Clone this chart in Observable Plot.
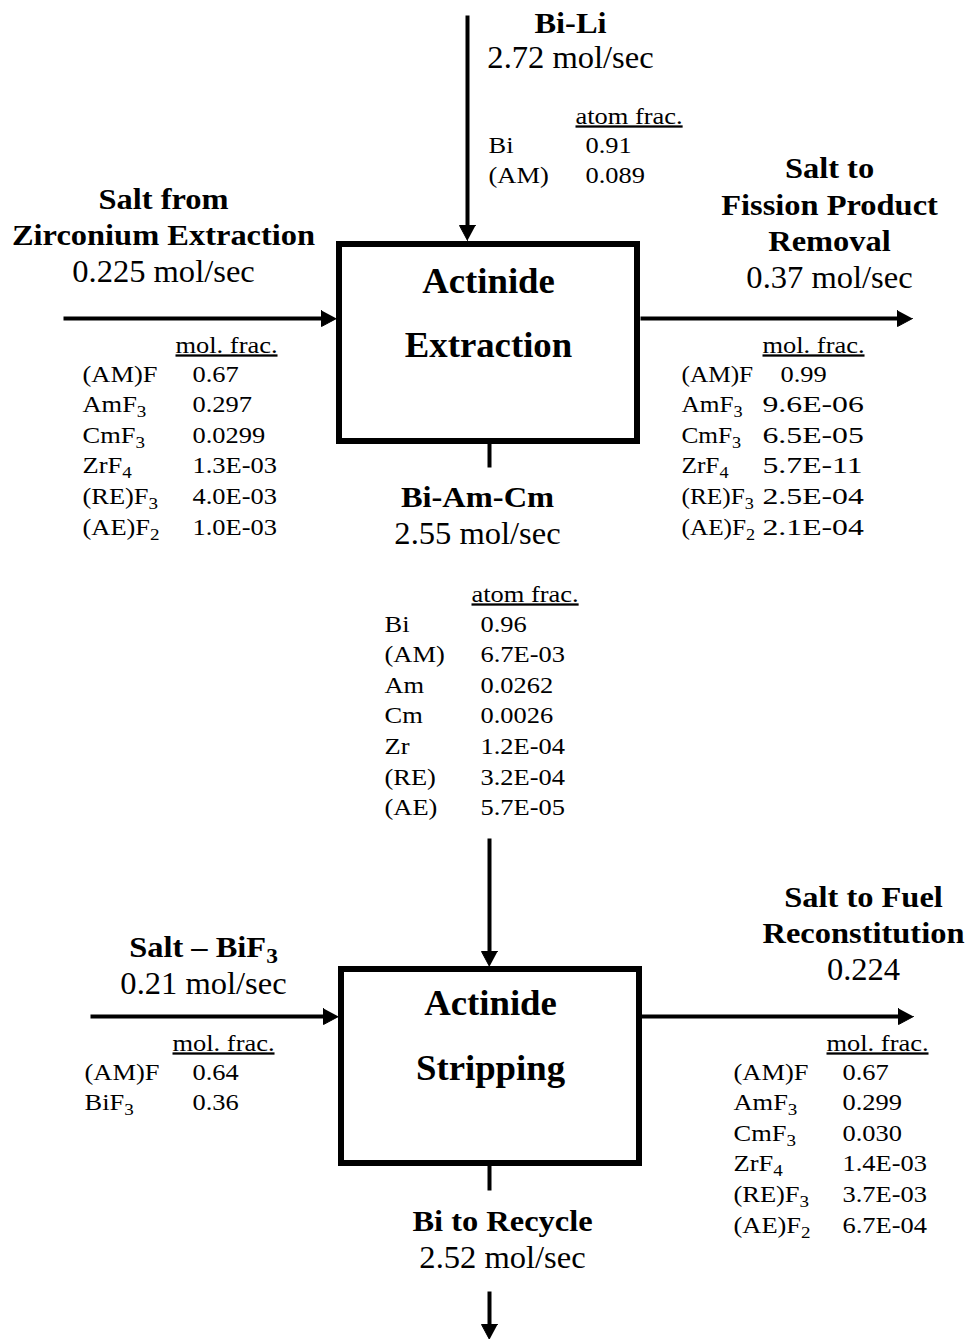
<!DOCTYPE html>
<html><head><meta charset="utf-8">
<script src="https://cdn.jsdelivr.net/npm/d3@7"></script>
<script src="https://cdn.jsdelivr.net/npm/@observablehq/plot@0.6"></script>
<style>
html,body{margin:0;padding:0;background:#fff;}
#chart svg{display:block;}
</style>
</head><body><div id="chart"></div>
<script>
// ---------------- data ----------------
const unitLines = [["Actinide", "Extraction"], ["Actinide", "Stripping"]];

const streamTitleLines = [
  ["Bi-Li"],
  ["Salt from", "Zirconium Extraction"],
  ["Salt to", "Fission Product", "Removal"],
  ["Bi-Am-Cm"],
  ["Salt – BiF₃"],
  ["Salt to Fuel", "Reconstitution"],
  ["Bi to Recycle"]
];
const streamFlows = ["2.72 mol/sec", "0.225 mol/sec", "0.37 mol/sec", "2.55 mol/sec", "0.21 mol/sec", "0.224", "2.52 mol/sec"];

const compHeaders = ["atom frac.", "mol. frac.", "mol. frac.", "atom frac.", "mol. frac.", "mol. frac."];

const biLiSpecies = ["Bi", "(AM)"];
const biLiFrac = ["0.91", "0.089"];

const saltFeedSpecies = ["(AM)F", "AmF₃", "CmF₃", "ZrF₄", "(RE)F₃", "(AE)F₂"];
const saltFeedFrac = ["0.67", "0.297", "0.0299", "1.3E-03", "4.0E-03", "1.0E-03"];

const saltToFPSpecies = ["(AM)F", "AmF₃", "CmF₃", "ZrF₄", "(RE)F₃", "(AE)F₂"];
const saltToFPFrac = ["0.99", "9.6E-06", "6.5E-05", "5.7E-11", "2.5E-04", "2.1E-04"];

const biAmCmSpecies = ["Bi", "(AM)", "Am", "Cm", "Zr", "(RE)", "(AE)"];
const biAmCmFrac = ["0.96", "6.7E-03", "0.0262", "0.0026", "1.2E-04", "3.2E-04", "5.7E-05"];

const stripSaltSpecies = ["(AM)F", "BiF₃"];
const stripSaltFrac = ["0.64", "0.36"];

const saltToFuelSpecies = ["(AM)F", "AmF₃", "CmF₃", "ZrF₄", "(RE)F₃", "(AE)F₂"];
const saltToFuelFrac = ["0.67", "0.299", "0.030", "1.4E-03", "3.7E-03", "6.7E-04"];

const tableSpecies = [biLiSpecies, saltFeedSpecies, saltToFPSpecies, biAmCmSpecies, stripSaltSpecies, saltToFuelSpecies];
const tableFracs = [biLiFrac, saltFeedFrac, saltToFPFrac, biAmCmFrac, stripSaltFrac, saltToFuelFrac];

// ---------------- layout (diagram geometry) ----------------
const W = 966, H = 1339;
const boxLayout = [
  {x1: 339, x2: 637, y1: 244, y2: 441, cx: 488, lineY: [292, 356]},
  {x1: 341, x2: 639, y1: 969, y2: 1163, cx: 490, lineY: [1014, 1079]}
];
const streamLayout = [
  {cx: 570, flowY: 67, step: 35},
  {cx: 163, flowY: 281, step: 36.5},
  {cx: 829, flowY: 287, step: 36.5},
  {cx: 477, flowY: 543, step: 36.5},
  {cx: 203, flowY: 993, step: 36.5},
  {cx: 863, flowY: 979, step: 36.5},
  {cx: 502, flowY: 1267, step: 36.5}
];
// lx: species column, vx: value column, hx/hy: header, ry: first row baseline
// lsx/vsx: horizontal stretch of label / E-notation value columns, firstVx: x of the first value if offset
const tableLayout = [
  {lx: 488, vx: 585, hx: 575, hy: 123, ry: 152},
  {lx: 82, vx: 192, hx: 175, hy: 352, ry: 381},
  {lx: 681, vx: 762, hx: 762, hy: 352, ry: 381, lsx: 1.1, vsx: 1.38, firstVx: 780},
  {lx: 384, vx: 480, hx: 471, hy: 601, ry: 631},
  {lx: 84, vx: 192, hx: 172, hy: 1050, ry: 1079},
  {lx: 733, vx: 842, hx: 826, hy: 1050, ry: 1079}
];
const rowStep = 30.65;
const pipeLayout = [
  {x1: 467, y1: 15, x2: 467, y2: 240, head: true},
  {x1: 63, y1: 318, x2: 336, y2: 318, head: true},
  {x1: 640, y1: 318, x2: 912, y2: 318, head: true},
  {x1: 489, y1: 441, x2: 489, y2: 467, head: false},
  {x1: 489, y1: 838, x2: 489, y2: 966, head: true},
  {x1: 90, y1: 1016, x2: 338, y2: 1016, head: true},
  {x1: 641, y1: 1016, x2: 913, y2: 1016, head: true},
  {x1: 489, y1: 1163, x2: 489, y2: 1190, head: false},
  {x1: 489, y1: 1291, x2: 489, y2: 1339, head: true}
];
const headLen = 15, headHalf = 8;

// ---------------- build mark data ----------------
const pipes = [], heads = [];
pipeLayout.forEach((p, k) => {
  if (!p.head) { pipes.push({...p}); return; }
  const dx = p.x2 - p.x1, dy = p.y2 - p.y1, L = Math.hypot(dx, dy);
  const ux = dx / L, uy = dy / L, px = -uy, py = ux;
  const bx = p.x2 - headLen * ux, by = p.y2 - headLen * uy;
  pipes.push({x1: p.x1, y1: p.y1, x2: bx + ux, y2: by + uy});
  heads.push({id: k, x: p.x2, y: p.y2});
  heads.push({id: k, x: bx + headHalf * px, y: by + headHalf * py});
  heads.push({id: k, x: bx - headHalf * px, y: by - headHalf * py});
});

const unitText = [];
unitLines.forEach((lines, i) => lines.forEach((t, j) => unitText.push({x: boxLayout[i].cx, y: boxLayout[i].lineY[j], text: t})));

const titleText = [], flowText = [];
streamTitleLines.forEach((lines, i) => {
  const s = streamLayout[i], n = lines.length;
  lines.forEach((t, j) => titleText.push({x: s.cx, y: s.flowY - (n - j) * s.step, text: t}));
  flowText.push({x: s.cx, y: s.flowY, text: streamFlows[i]});
});

const TABLE_SX = 1.15;
const headerText = [], cellText = [];
tableSpecies.forEach((sp, i) => {
  const L = tableLayout[i];
  headerText.push({x: L.hx, y: L.hy, text: compHeaders[i]});
  sp.forEach((name, r) => {
    const v = tableFracs[i][r];
    cellText.push({x: L.lx, y: L.ry + r * rowStep, text: name, sx: L.lsx || TABLE_SX});
    cellText.push({
      x: (r === 0 && L.firstVx) ? L.firstVx : L.vx,
      y: L.ry + r * rowStep, text: v,
      sx: (L.vsx && /E/.test(v)) ? L.vsx : TABLE_SX
    });
  });
});

const serif = "'Liberation Serif', 'Times New Roman', Times, serif";

const chart = Plot.plot({
  width: W, height: H, margin: 0,
  x: {domain: [0, W], range: [0, W], axis: null},
  y: {domain: [0, H], range: [0, H], axis: null},
  style: {fontFamily: serif, background: "white", color: "black"},
  marks: [
    Plot.rect(boxLayout, {x1: "x1", x2: "x2", y1: "y1", y2: "y2", fill: "none", stroke: "black", strokeWidth: 6}),
    Plot.link(pipes, {x1: "x1", y1: "y1", x2: "x2", y2: "y2", stroke: "black", strokeWidth: 4, strokeLinecap: "butt"}),
    Plot.line(heads, {x: "x", y: "y", z: "id", fill: "black", stroke: "black", strokeWidth: 1, strokeLinejoin: "miter"}),
    Plot.text(unitText, {x: "x", y: "y", text: "text", textAnchor: "middle", lineAnchor: "bottom", fontSize: 35, fontWeight: "bold", fill: "black"}),
    Plot.text(titleText, {x: "x", y: "y", text: "text", textAnchor: "middle", lineAnchor: "bottom", fontSize: 29, fontWeight: "bold", fill: "black"}),
    Plot.text(flowText, {x: "x", y: "y", text: "text", textAnchor: "middle", lineAnchor: "bottom", fontSize: 31, fill: "black"}),
    Plot.text(headerText, {x: "x", y: "y", text: "text", textAnchor: "start", lineAnchor: "bottom", fontSize: 23, fill: "black"}),
    Plot.text(cellText, {x: "x", y: "y", text: "text", textAnchor: "start", lineAnchor: "bottom", fontSize: 23, fill: "black"})
  ]
});

// subscripts: render Unicode subscript digits as real lowered digits
chart.querySelectorAll("text").forEach(t => {
  const s = t.textContent;
  if (!/[\u2080-\u2089]/.test(s)) return;
  t.textContent = "";
  s.match(/[\u2080-\u2089]+|[^\u2080-\u2089]+/g).forEach(part => {
    const ts = document.createElementNS("http://www.w3.org/2000/svg", "tspan");
    if (/[\u2080-\u2089]/.test(part)) {
      ts.textContent = [...part].map(c => String.fromCharCode(c.charCodeAt(0) - 0x2080 + 48)).join("");
      ts.setAttribute("font-size", "72%");
      ts.setAttribute("dy", "0.3em");
    } else ts.textContent = part;
    t.appendChild(ts);
  });
});

// horizontal stretch of the typeface to match reference glyph proportions
// text groups appear in mark order: unit, title, flow, header, cell
const textGroups = [...chart.querySelectorAll("g")].filter(g => g.querySelector(":scope > text"));
const stretch = [1.05, 1.12, 1.05, TABLE_SX, null];
textGroups.forEach((g, gi) => {
  g.querySelectorAll(":scope > text").forEach((t, ti) => {
    const sx = gi === 4 ? cellText[ti].sx : (stretch[gi] || 1);
    t.setAttribute("transform", (t.getAttribute("transform") || "") + ` scale(${sx},1)`);
    if (gi === 3) t.style.textDecoration = "underline";
  });
});

document.getElementById("chart").appendChild(chart);
</script>
</body></html>
